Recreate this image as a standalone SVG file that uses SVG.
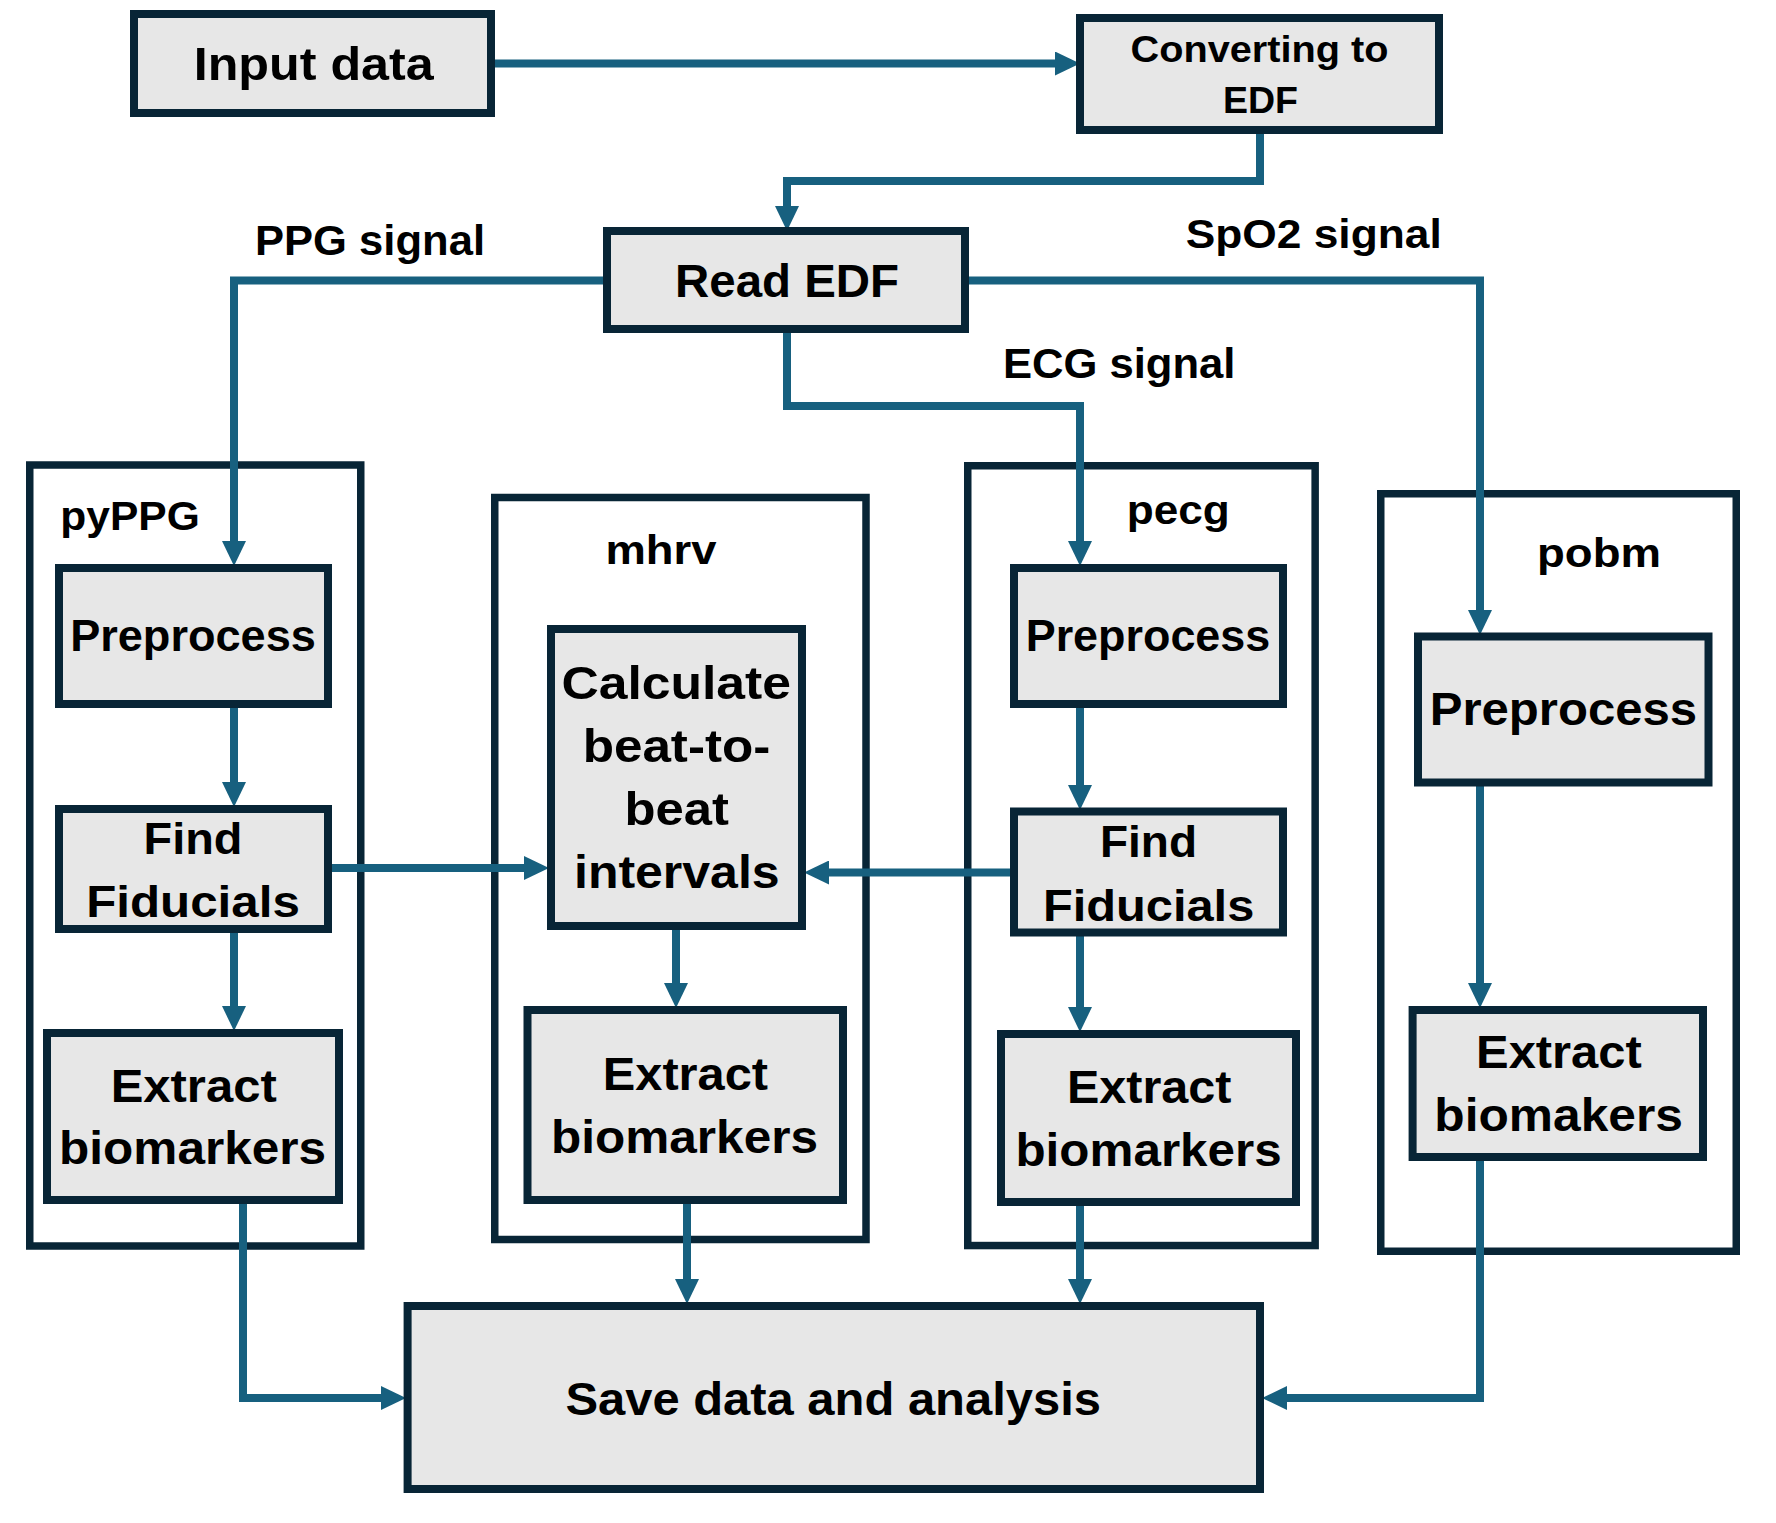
<svg xmlns="http://www.w3.org/2000/svg" width="1776" height="1523" viewBox="0 0 1776 1523">
<style>
.box{fill:#e7e7e7;stroke:#082536;stroke-width:8}
.frame{fill:none;stroke:#082536;stroke-width:7.5}
.conn{fill:none;stroke:#17607f;stroke-width:8;stroke-linejoin:miter;marker-end:url(#ah)}
text{font-family:"Liberation Sans",Arial,sans-serif;font-weight:bold;fill:#000;text-anchor:middle}
.t46{font-size:46px}
.t44{font-size:44px}
.t42{font-size:42px}
.t40{font-size:40px}
.t36{font-size:36px}
</style>
<defs>
<marker id="ah" markerUnits="userSpaceOnUse" markerWidth="25" markerHeight="24" refX="13" refY="12" orient="auto">
<path d="M0,0 L25,12 L0,24 z" fill="#17607f"/>
</marker>
</defs>
<rect width="1776" height="1523" fill="#fff"/>

<g id="frames">
<g id="pyPPG"><rect class="frame" x="29.75" y="465" width="331" height="781"/><text class="t40" x="130" y="530" textLength="139.5" lengthAdjust="spacingAndGlyphs">pyPPG</text></g>
<g id="mhrv"><rect class="frame" x="494.75" y="497.5" width="371.25" height="742"/><text class="t40" x="661" y="564" textLength="111" lengthAdjust="spacingAndGlyphs">mhrv</text></g>
<g id="pecg"><rect class="frame" x="967.75" y="465.75" width="347.4" height="779.8"/><text class="t40" x="1178.3" y="524" textLength="103" lengthAdjust="spacingAndGlyphs">pecg</text></g>
<g id="pobm"><rect class="frame" x="1380.75" y="493.75" width="355.5" height="757.5"/><text class="t40" x="1599" y="566.5" textLength="124" lengthAdjust="spacingAndGlyphs">pobm</text></g>
</g>

<g id="labels">
<text class="t42" x="370" y="255" textLength="230" lengthAdjust="spacingAndGlyphs">PPG signal</text>
<text class="t40" x="1313.7" y="248" textLength="256" lengthAdjust="spacingAndGlyphs">SpO2 signal</text>
<text class="t42" x="1119.2" y="378" textLength="232.5" lengthAdjust="spacingAndGlyphs">ECG signal</text>
</g>

<g id="connectors">
<path class="conn" d="M495,63.5 H1068"/>
<path class="conn" d="M1260,134 V181 H787 V219"/>
<path class="conn" d="M603,280.5 H234 V554"/>
<path class="conn" d="M787,333 V406 H1080 V554"/>
<path class="conn" d="M969,280.5 H1480 V623"/>
<path class="conn" d="M234,708 V795"/>
<path class="conn" d="M234,932 V1019"/>
<path class="conn" d="M332,868 H537"/>
<path class="conn" d="M1010,872.5 H816"/>
<path class="conn" d="M676,930 V996"/>
<path class="conn" d="M1080,708 V798"/>
<path class="conn" d="M1080,936 V1020"/>
<path class="conn" d="M1480,786 V996"/>
<path class="conn" d="M243,1204 V1398 H394"/>
<path class="conn" d="M687,1204 V1292"/>
<path class="conn" d="M1080,1206 V1292"/>
<path class="conn" d="M1480,1161 V1398 H1274"/>
</g>

<g id="input"><rect class="box" x="134" y="14" width="357" height="99"/><text class="t46" x="313.7" y="80" textLength="240" lengthAdjust="spacingAndGlyphs">Input data</text></g>
<g id="convert"><rect class="box" x="1080" y="18" width="359" height="112"/><text class="t36" x="1259.5" y="62" textLength="258" lengthAdjust="spacingAndGlyphs">Converting to</text><text class="t36" x="1260.5" y="113" textLength="75" lengthAdjust="spacingAndGlyphs">EDF</text></g>
<g id="readedf"><rect class="box" x="607" y="231" width="358" height="98"/><text class="t46" x="787" y="297" textLength="224" lengthAdjust="spacingAndGlyphs">Read EDF</text></g>

<g id="ppg-pre"><rect class="box" x="59" y="568" width="269" height="136"/><text class="t44" x="193" y="651" textLength="245.7" lengthAdjust="spacingAndGlyphs">Preprocess</text></g>
<g id="ppg-fid"><rect class="box" x="59" y="809" width="269" height="120"/><text class="t44" x="193" y="853.5" textLength="98.8" lengthAdjust="spacingAndGlyphs">Find</text><text class="t44" x="193" y="916.6" textLength="213.6" lengthAdjust="spacingAndGlyphs">Fiducials</text></g>
<g id="ppg-ext"><rect class="box" x="47" y="1033" width="292" height="167"/><text class="t46" x="193.7" y="1101.7" textLength="166" lengthAdjust="spacingAndGlyphs">Extract</text><text class="t46" x="192.6" y="1164" textLength="267" lengthAdjust="spacingAndGlyphs">biomarkers</text></g>

<g id="hrv-calc"><rect class="box" x="551" y="629" width="251" height="297"/><text class="t46" x="676.2" y="698.5" textLength="229.6" lengthAdjust="spacingAndGlyphs">Calculate</text><text class="t46" x="676.5" y="761.7" textLength="187.7" lengthAdjust="spacingAndGlyphs">beat-to-</text><text class="t46" x="676.8" y="824.8" textLength="104.4" lengthAdjust="spacingAndGlyphs">beat</text><text class="t46" x="676.8" y="888" textLength="205.6" lengthAdjust="spacingAndGlyphs">intervals</text></g>
<g id="hrv-ext"><rect class="box" x="527.5" y="1010" width="315.5" height="190"/><text class="t46" x="685.4" y="1090" textLength="165.3" lengthAdjust="spacingAndGlyphs">Extract</text><text class="t46" x="684.5" y="1152.7" textLength="267" lengthAdjust="spacingAndGlyphs">biomarkers</text></g>

<g id="ecg-pre"><rect class="box" x="1014" y="568" width="269" height="136"/><text class="t44" x="1148" y="650.7" textLength="244.6" lengthAdjust="spacingAndGlyphs">Preprocess</text></g>
<g id="ecg-fid"><rect class="box" x="1014" y="811.5" width="269" height="121"/><text class="t44" x="1148.5" y="857" textLength="97" lengthAdjust="spacingAndGlyphs">Find</text><text class="t44" x="1148.6" y="920.5" textLength="211.4" lengthAdjust="spacingAndGlyphs">Fiducials</text></g>
<g id="ecg-ext"><rect class="box" x="1001" y="1034" width="295" height="168"/><text class="t46" x="1149.2" y="1103" textLength="164.5" lengthAdjust="spacingAndGlyphs">Extract</text><text class="t46" x="1148.6" y="1165.7" textLength="266.3" lengthAdjust="spacingAndGlyphs">biomarkers</text></g>

<g id="obm-pre"><rect class="box" x="1418" y="636.5" width="290.5" height="146"/><text class="t46" x="1563.4" y="725" textLength="267.4" lengthAdjust="spacingAndGlyphs">Preprocess</text></g>
<g id="obm-ext"><rect class="box" x="1412.6" y="1010" width="290.4" height="147"/><text class="t46" x="1558.9" y="1068" textLength="165.7" lengthAdjust="spacingAndGlyphs">Extract</text><text class="t46" x="1558.6" y="1130.7" textLength="248.6" lengthAdjust="spacingAndGlyphs">biomakers</text></g>

<g id="save"><rect class="box" x="407.6" y="1306" width="852.4" height="183"/><text class="t46" x="833.2" y="1415" textLength="535.6" lengthAdjust="spacingAndGlyphs">Save data and analysis</text></g>
</svg>
